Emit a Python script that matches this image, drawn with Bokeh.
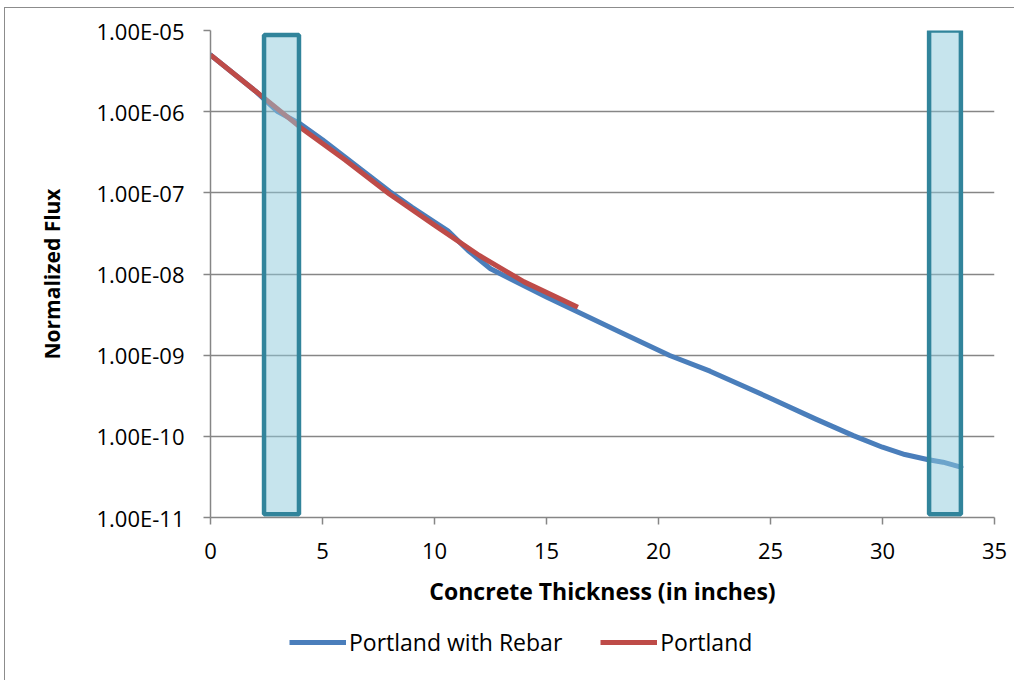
from bokeh.plotting import figure
from bokeh.layouts import column
from bokeh.models import (FixedTicker, CustomJSTickFormatter, Range1d, Legend, LegendItem,
                          LogAxis, LinearAxis)
from bokeh.embed import file_html
from bokeh.resources import INLINE

# ---- data ----
rebar_x = [0, 2, 3, 4, 5, 6, 7, 8, 9, 10, 10.6, 11.5, 12.5, 15, 16.1, 18.3, 20.5, 22.3,
           24.9, 27, 28.7, 30, 31, 32, 32.7, 33.5]
rebar_y = [5.0e-6, 1.8e-6, 1.0e-6, 7.1e-7, 4.5e-7, 2.76e-7, 1.69e-7, 1.04e-7, 6.65e-8,
           4.37e-8, 3.4e-8, 1.95e-8, 1.16e-8, 5.2e-9, 3.72e-9, 1.92e-9, 9.9e-10, 6.35e-10,
           3.03e-10, 1.64e-10, 1.02e-10, 7.34e-11, 5.97e-11, 5.18e-11, 4.8e-11, 4.17e-11]
portland_x = [0, 2, 4, 6, 8, 10, 12, 14, 16.4]
portland_y = [5.0e-6, 1.8e-6, 6.44e-7, 2.55e-7, 9.6e-8, 4.0e-8, 1.69e-8, 8.0e-9, 3.9e-9]

band_left = [2.39, 32.08]
band_right = [3.95, 33.5]
band_top = [8.8e-6, 1.0e-5]
band_bottom = [1.1e-11, 1.1e-11]

x_ticks = [0, 5, 10, 15, 20, 25, 30, 35]
y_ticks = [1e-11, 1e-10, 1e-9, 1e-8, 1e-7, 1e-6, 1e-5]

x_title = "Concrete Thickness (in inches)"
y_title = "Normalized Flux"
series_names = ["Portland with Rebar", "Portland"]

FONT = "Open Sans"
GRID = "#868686"
BLUE = "#4A7EBB"
RED = "#BE4B48"
W = 1009

p = figure(width=W, height=602, output_backend="svg", toolbar_location=None,
           y_axis_type="log", x_range=Range1d(0, 35), y_range=Range1d(1e-11, 1e-5),
           min_border_left=205, min_border_right=20, min_border_top=22, min_border_bottom=93,
           x_axis_location=None, y_axis_location=None)
p.outline_line_color = None
p.background_fill_color = "white"
p.border_fill_color = "white"

xaxis = LinearAxis(ticker=FixedTicker(ticks=x_ticks))
yaxis = LogAxis(ticker=FixedTicker(ticks=y_ticks))
p.add_layout(xaxis, "below")
p.add_layout(yaxis, "left")

yaxis.formatter = CustomJSTickFormatter(code="""
const s = tick.toExponential(2).split('e');
const e = parseInt(s[1]);
const a = Math.abs(e);
return s[0] + 'E' + (e < 0 ? '-' : '+') + (a < 10 ? '0' : '') + a;
""")

for ax in (xaxis, yaxis):
    ax.axis_line_color = GRID
    ax.axis_line_width = 1.5
    ax.major_tick_line_color = GRID
    ax.major_tick_line_width = 1.5
    ax.major_tick_out = 7
    ax.major_tick_in = 0
    ax.minor_tick_line_color = None
    ax.major_label_text_font = FONT
    ax.major_label_text_font_size = "22px"
    ax.major_label_text_color = "black"
    ax.axis_label_text_font = FONT
    ax.axis_label_text_font_style = "bold"
    ax.axis_label_text_color = "black"

xaxis.axis_label = x_title
xaxis.axis_label_text_font_size = "23px"
xaxis.major_label_standoff = 18
xaxis.axis_label_standoff = 13
yaxis.axis_label = y_title
yaxis.axis_label_text_font_size = "21px"
yaxis.major_label_standoff = 19
yaxis.axis_label_standoff = 28

p.xgrid.grid_line_color = None
p.ygrid.ticker = FixedTicker(ticks=y_ticks)
p.ygrid.grid_line_color = GRID
p.ygrid.grid_line_width = 1.5

p.line(rebar_x, rebar_y, line_color=BLUE, line_width=5, line_join="round", line_cap="round")
p.line(portland_x, portland_y, line_color=RED, line_width=5, line_join="round", line_cap="butt")

p.quad(left=band_left, right=band_right, top=band_top, bottom=band_bottom,
       fill_color="#8DC9DB", fill_alpha=0.5, line_color="#31849B", line_width=4.5)

# legend strip below the chart
p2 = figure(width=W, height=70, output_backend="svg", toolbar_location=None,
            x_range=Range1d(0, 1), y_range=Range1d(0, 1), min_border=0,
            x_axis_location=None, y_axis_location=None)
p2.outline_line_color = None
p2.xgrid.visible = False
p2.ygrid.visible = False
l1 = p2.line([-5, -4], [0.5, 0.5], line_color=BLUE, line_width=5)
l2 = p2.line([-5, -4], [0.5, 0.5], line_color=RED, line_width=5)
legend = Legend(items=[LegendItem(label=series_names[0], renderers=[l1]),
                       LegendItem(label=series_names[1], renderers=[l2])],
                orientation="horizontal", location=(79, 22),
                glyph_width=57, glyph_height=22, label_standoff=3, spacing=38,
                padding=0, margin=0, border_line_color=None, background_fill_alpha=0,
                label_text_font=FONT, label_text_font_size="23px", label_text_color="black")
p2.add_layout(legend)

layout = column(p, p2, spacing=0,
                styles={"margin-left": "4px", "margin-top": "7px",
                        "border-top": "1px solid #8c8c8c", "border-left": "1px solid #8c8c8c"})

open("out.html", "w").write(file_html(layout, INLINE))
